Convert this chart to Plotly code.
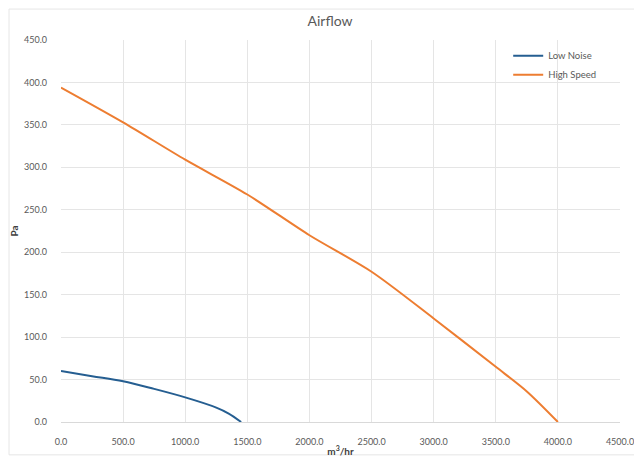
import plotly.graph_objects as go

low_x = [0, 250, 500, 750, 1000, 1250, 1350, 1450]
low_y = [60, 54, 48, 39, 29, 17, 10, 0]

high_x = [0, 500, 1000, 1500, 2000, 2500, 3000, 3500, 3750, 4000]
high_y = [394, 353, 309, 268, 220, 177, 122, 65, 36, 0]

fig = go.Figure()
fig.add_trace(go.Scatter(x=low_x, y=low_y, mode="lines", name="Low Noise",
                         line=dict(color="#255E91", width=2, shape="spline", smoothing=1.0)))
fig.add_trace(go.Scatter(x=high_x, y=high_y, mode="lines", name="High Speed",
                         line=dict(color="#ED7D31", width=2, shape="spline", smoothing=0.8)))

font = "Lato, 'Open Sans', sans-serif"
fig.update_layout(
    width=634, height=453,
    margin=dict(l=53, r=22, t=32, b=39),
    paper_bgcolor="white", plot_bgcolor="white",
    title=dict(text="Airflow", x=0.508, xanchor="center", y=0.972, yanchor="middle",
               font=dict(family=font, size=14, color="#595959")),
    font=dict(family=font, size=9, color="#595959"),
    showlegend=True,
    legend=dict(x=0.80, y=0.997, xanchor="left", yanchor="top",
                bgcolor="rgba(0,0,0,0)", font=dict(size=9.5, color="#595959"),
                tracegroupgap=0),
    shapes=[dict(type="rect", xref="paper", yref="paper",
                 x0=-0.093, x1=1.037, y0=-0.086, y1=1.081,
                 line=dict(color="#E6E6E6", width=1), fillcolor="rgba(0,0,0,0)",
                 layer="below")],
)
fig.update_xaxes(range=[0, 4500], dtick=500, tick0=0, tickformat=".1f",
                 showgrid=True, gridcolor="#E5E5E5", gridwidth=1,
                 showline=True, linecolor="#D9D9D9", zeroline=False,
                 ticks="", ticklabelstandoff=11, automargin=False,
                 tickfont=dict(size=9, color="#595959"),
                 title=dict(text="<b>m<sup>3</sup>/hr</b>", standoff=2,
                            font=dict(size=10, color="#404040")))
fig.update_yaxes(range=[0, 450], dtick=50, tick0=0, tickformat=".1f",
                 showgrid=True, gridcolor="#E5E5E5", gridwidth=1,
                 showline=False, zeroline=False,
                 ticks="", ticklabelstandoff=13, automargin=False,
                 tickfont=dict(size=9, color="#595959"),
                 title=dict(text="<b>Pa</b>", standoff=6,
                            font=dict(size=10, color="#404040")))

fig.write_html("out.html")
